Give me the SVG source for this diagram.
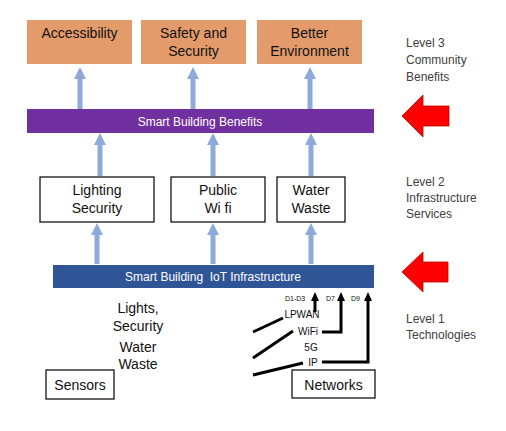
<svg xmlns="http://www.w3.org/2000/svg" width="506" height="431" viewBox="0 0 506 431">
<defs>
<style>
text{font-family:"Liberation Sans",Arial,sans-serif;}
.ob{fill:#E39B6B;}
.lbl{font-size:14px;fill:#111;text-anchor:middle;}
.wb{fill:#fff;stroke:#000;stroke-width:1.2;}
.lvl{font-size:12px;fill:#404040;}
.bar{font-size:12px;fill:#fff;text-anchor:middle;white-space:pre;}
.ba{stroke:#8EAADB;stroke-width:5;fill:none;}
.bah{fill:#8EAADB;}
.red{fill:#FF0000;stroke:#C00000;stroke-width:0.8;}
.blk{stroke:#000;stroke-width:3;fill:none;}
.sm{font-size:7px;fill:#111;}
.net{font-size:10px;fill:#111;text-anchor:middle;}
</style>
</defs>
<rect width="506" height="431" fill="#fff"/>

<g id="accessibility"><rect class="ob" x="27" y="20" width="105" height="44"/><text class="lbl" x="79.5" y="38">Accessibility</text></g>
<g id="safety"><rect class="ob" x="141" y="20" width="105" height="44"/><text class="lbl" x="193.5" y="38">Safety and</text><text class="lbl" x="193.5" y="56">Security</text></g>
<g id="environment"><rect class="ob" x="257" y="20" width="105" height="44"/><text class="lbl" x="309.5" y="38">Better</text><text class="lbl" x="309.5" y="56">Environment</text></g>

<g id="benefits"><rect x="27" y="109" width="347" height="24" fill="#7030A0"/><text class="bar" x="200" y="125.5">Smart Building Benefits</text></g>

<g id="lighting"><rect class="wb" x="40" y="177" width="114" height="45"/><text class="lbl" x="97" y="195">Lighting</text><text class="lbl" x="97" y="213">Security</text></g>
<g id="wifi"><rect class="wb" x="171" y="177" width="94" height="45"/><text class="lbl" x="218" y="195">Public</text><text class="lbl" x="218" y="213">Wi fi</text></g>
<g id="water"><rect class="wb" x="277" y="177" width="68" height="45"/><text class="lbl" x="311" y="195">Water</text><text class="lbl" x="311" y="213">Waste</text></g>

<g id="iot"><rect x="53" y="265" width="321" height="23" fill="#2F5597"/><text class="bar" x="213" y="281" xml:space="preserve">Smart Building  IoT Infrastructure</text></g>

<g id="sensors-list"><text class="lbl" x="138" y="313" font-size="13">Lights,</text><text class="lbl" x="138" y="331" font-size="13">Security</text><text class="lbl" x="138" y="352" font-size="13">Water</text><text class="lbl" x="138" y="369" font-size="13">Waste</text></g>
<g id="sensors"><rect class="wb" x="46" y="370" width="68" height="29"/><text class="lbl" x="80" y="390" font-size="15.5">Sensors</text></g>
<g id="networks"><rect class="wb" x="292" y="370" width="83" height="28"/><text class="lbl" x="333.5" y="390" font-size="15.5">Networks</text></g>

<g id="network-labels">
<text class="sm" x="285" y="301">D1-D3</text>
<text class="sm" x="326" y="301">D7</text>
<text class="sm" x="351" y="301">D9</text>
<text class="net" x="302" y="318">LPWAN</text>
<text class="net" x="308" y="335">WiFi</text>
<text class="net" x="311" y="351">5G</text>
<text class="net" x="313" y="366">IP</text>
</g>

<g id="levels">
<text class="lvl" x="406" y="47">Level 3</text><text class="lvl" x="406" y="64">Community</text><text class="lvl" x="406" y="81">Benefits</text>
<text class="lvl" x="406" y="186">Level 2</text><text class="lvl" x="406" y="202">Infrastructure</text><text class="lvl" x="406" y="218">Services</text>
<text class="lvl" x="406" y="323">Level 1</text><text class="lvl" x="406" y="339">Technologies</text>
</g>

<g id="connectors">
<path class="ba" d="M80 109V77M193 109V77M310 109V77"/>
<path class="bah" d="M74 79L80 67L86 79ZM187 79L193 67L199 79ZM304 79L310 67L316 79Z"/>
<path class="ba" d="M100 176V143M213 176V143M311 176V143"/>
<path class="bah" d="M94 145L100 133L106 145ZM207 145L213 133L219 145ZM305 145L311 133L317 145Z"/>
<path class="ba" d="M97 264V233M213 264V233M311 264V233"/>
<path class="bah" d="M91 235L97 223L103 235ZM207 235L213 223L219 235ZM305 235L311 223L317 235Z"/>
<path class="red" d="M402 116L423 95V106H449V126H423V137Z"/>
<path class="red" d="M402 272L423 252V262H448V282H423V292Z"/>
<path class="blk" d="M315 312V300M322 332H341V300M322 362H368V300"/>
<path d="M311 301L315 292L319 301ZM337 301L341 292L345 301ZM364 301L368 292L372 301Z" fill="#000"/>
<path class="blk" d="M253 332L283 318M253 358L293 331M253 375L303 363"/>
</g>
</svg>
